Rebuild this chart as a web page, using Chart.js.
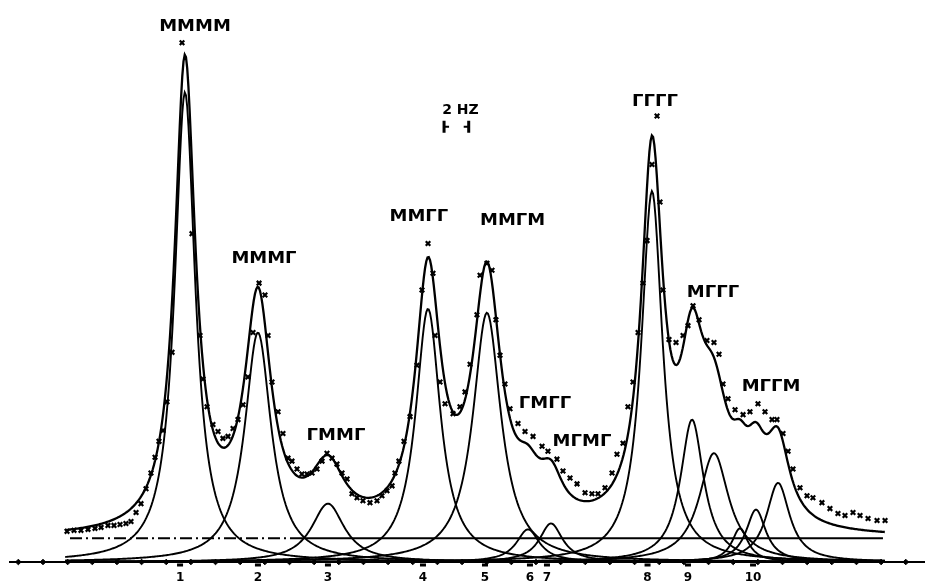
<!DOCTYPE html>
<html>
<head>
  <meta charset="UTF-8" />
  <title>Pentad fit</title>
  <script src="https://cdn.jsdelivr.net/npm/chart.js"></script>
  <style>
    html, body { margin: 0; padding: 0; background: #fff; }
    #wrap { width: 932px; height: 587px; }
  </style>
</head>
<body>
  <div id="wrap"><canvas id="spectrum"></canvas></div>

  <script>
    // fitted lines: centre (Hz), height, half width at half height (Hz)
    const peakCentre    = [11.52, 17.44, 23.12, 31.24, 36.02, 39.35, 41.22, 49.41, 52.66, 54.44, 56.55, 57.85, 59.64];
    const peakHeight    = [95.0, 46.4, 11.8, 51.2, 50.4, 6.6, 7.8, 75.0, 28.8, 22.0, 6.8, 10.6, 16.0];
    const peakHalfWidth = [1.01, 1.30, 1.62, 1.22, 1.38, 1.14, 1.14, 1.05, 1.14, 1.46, 0.81, 0.97, 1.14];
    const baselineLevel = 4.8;
    const curveFrom = 1.8, curveTo = 68.3;

    // measured points (x marks)
    const obsHz = [1.95, 2.52, 3.08, 3.65, 4.22, 4.71, 5.27, 5.76, 6.25, 6.73, 7.14, 7.55, 7.95, 8.36, 8.76, 9.09, 9.41, 9.74,
      10.06, 10.47, 11.28, 12.09, 12.74, 12.98, 13.31, 13.79, 14.20, 14.60, 15.01, 15.42, 15.82, 16.23, 16.63, 17.04, 17.53,
      18.01, 18.26, 18.58, 19.07, 19.47, 19.88, 20.20, 20.61, 21.01, 21.42, 21.83, 22.23, 22.64, 23.04, 23.45, 23.85, 24.26,
      24.67, 25.07, 25.48, 25.96, 26.53, 27.10, 27.50, 27.91, 28.32, 28.56, 28.88, 29.29, 29.78, 30.34, 30.75, 31.24, 31.64,
      31.81, 32.21, 32.62, 33.27, 33.83, 34.24, 34.65, 35.21, 35.46, 36.02, 36.43, 36.75, 37.08, 37.48, 37.89, 38.54, 39.11,
      39.76, 40.49, 40.97, 41.70, 42.19, 42.76, 43.33, 43.98, 44.54, 45.03, 45.60, 46.17, 46.57, 47.06, 47.46, 47.87, 48.28,
      48.68, 49.01, 49.41, 49.82, 50.06, 50.30, 50.79, 51.36, 51.93, 52.33, 52.74, 53.23, 53.87, 54.44, 54.85, 55.17, 55.58,
      56.15, 56.80, 57.36, 58.01, 58.58, 59.15, 59.55, 60.04, 60.45, 60.85, 61.42, 61.99, 62.47, 63.20, 63.85, 64.50, 65.07,
      65.72, 66.29, 66.94, 67.67, 68.32];
    const obsInt = [6.2, 6.4, 6.4, 6.6, 6.8, 7.0, 7.4, 7.4, 7.6, 7.8, 8.2, 10.0, 11.8, 14.8, 18.0, 21.2, 24.4, 26.6,
      32.4, 42.4, 105.0, 66.4, 45.8, 37.0, 31.4, 27.8, 26.4, 25.0, 25.4, 27.0, 28.8, 31.8, 37.4, 46.4, 56.4,
      54.0, 45.8, 36.4, 30.4, 26.0, 21.0, 20.4, 18.8, 17.8, 17.8, 18.0, 18.8, 20.4, 22.0, 21.0, 19.8, 18.0,
      16.8, 13.8, 13.0, 12.4, 12.0, 12.4, 13.4, 14.4, 15.4, 18.0, 20.4, 24.4, 29.4, 39.8, 55.0, 64.4, 58.4,
      45.8, 36.4, 32.0, 30.0, 31.4, 34.4, 40.0, 50.0, 58.0, 60.4, 59.0, 49.0, 41.8, 36.0, 31.0, 28.0, 26.4,
      25.4, 23.4, 22.4, 20.8, 18.4, 17.0, 15.8, 14.0, 13.8, 13.8, 15.0, 18.0, 21.8, 24.0, 31.4, 36.4, 46.4,
      56.4, 65.0, 80.4, 90.2, 72.8, 55.0, 45.0, 44.4, 45.8, 47.8, 51.8, 49.0, 44.8, 44.4, 42.0, 36.0, 33.0,
      30.8, 29.8, 30.4, 32.0, 30.4, 28.8, 28.8, 26.0, 22.4, 18.8, 15.0, 13.4, 13.0, 12.0, 10.8, 9.8, 9.4,
      10.0, 9.4, 8.8, 8.4, 8.4];

    // axis
    const tickHz   = [11.12, 17.44, 23.12, 30.83, 35.86, 39.51, 40.89, 49.05, 52.33, 57.61];
    const tickText = ['1', '2', '3', '4', '5', '6', '7', '8', '9', '10'];
    const axisMarkHz = [-2, 0, 2, 4, 6, 8, 10, 12, 14, 16, 18, 20, 22, 24, 26, 28, 30, 32, 34, 36,
      38, 40, 42, 44, 46, 48, 50, 52, 54, 56, 58, 60, 62, 64, 66, 68, 70];

    // pentad names
    const pentadText = ['MMMM', 'MMMΓ', 'ΓMMΓ', 'MMΓΓ', 'MMΓM', 'ΓMΓΓ', 'MΓMΓ', 'ΓΓΓΓ', 'MΓΓΓ', 'MΓΓM'];
    const pentadHz   = [12.33, 17.93, 23.77, 30.50, 38.10, 40.73, 43.73, 49.66, 54.36, 59.07];
    const pentadInt  = [108.2, 61.4, 25.6, 69.8, 69.0, 32.0, 24.4, 93.0, 54.4, 35.4];
    const scaleBarHz = [32.54, 34.54];

    function line(i, x) {
      const d = (x - peakCentre[i]) / peakHalfWidth[i];
      return peakHeight[i] / (1 + d * d);
    }

    const xs = [];
    for (let k = 0; curveFrom + k * 0.1 <= curveTo; k++) xs.push(+(curveFrom + k * 0.1).toFixed(2));

    const lineSets = peakCentre.map((c, i) => ({
      data: xs.map(x => ({ x: x, y: line(i, x) })),
      showLine: true, pointRadius: 0, borderColor: '#000', borderWidth: 1.9, fill: false
    }));

    const sumSet = {
      data: xs.map(x => ({ x: x, y: baselineLevel + peakCentre.reduce((s, c, i) => s + line(i, x), 0) })),
      showLine: true, pointRadius: 0, borderColor: '#000', borderWidth: 2.3, fill: false
    };

    const obsSet = {
      data: obsHz.map((x, i) => ({ x: x, y: obsInt[i] })),
      showLine: false, pointStyle: 'crossRot', pointRadius: 3.2, borderColor: '#000', borderWidth: 2.2
    };

    const baseDash = {
      data: [{ x: 2.19, y: baselineLevel }, { x: 20.04, y: baselineLevel }],
      showLine: true, pointRadius: 0, borderColor: '#000', borderWidth: 1.8, borderDash: [12, 4, 2, 4]
    };
    const baseSolid = {
      data: [{ x: 20.04, y: baselineLevel }, { x: 68.15, y: baselineLevel }],
      showLine: true, pointRadius: 0, borderColor: '#000', borderWidth: 1.8
    };

    const axisMarks = {
      data: axisMarkHz.map(x => ({ x: x, y: 0 })),
      showLine: false, pointStyle: 'rectRot', pointRadius: 2.8, backgroundColor: '#000', borderColor: '#000',
      borderWidth: 1, clip: false
    };

    const labelPlugin = {
      id: 'labels',
      afterDatasetsDraw(chart) {
        const ctx = chart.ctx, xS = chart.scales.x, yS = chart.scales.y;
        ctx.save();
        ctx.fillStyle = '#000';
        ctx.strokeStyle = '#000';
        ctx.textAlign = 'center';
        ctx.textBaseline = 'middle';
        ctx.font = 'bold 18px "DejaVu Sans"';
        pentadText.forEach((t, i) => {
          const px = xS.getPixelForValue(pentadHz[i]), py = yS.getPixelForValue(pentadInt[i]);
          ctx.save();
          ctx.translate(px, py);
          ctx.scale(1.0, 0.9);
          ctx.fillText(t, 0, 0);
          ctx.restore();
        });

        // 2 Hz bar
        const a = xS.getPixelForValue(scaleBarHz[0]), b = xS.getPixelForValue(scaleBarHz[1]);
        const yb = yS.getPixelForValue(88);
        ctx.font = 'bold 14px "DejaVu Sans"';
        ctx.fillText('2 HZ', (a + b) / 2 + 4, yS.getPixelForValue(91.4));
        ctx.lineWidth = 3;
        ctx.beginPath();
        ctx.moveTo(a, yb - 6); ctx.lineTo(a, yb + 6);
        ctx.moveTo(b, yb - 6); ctx.lineTo(b, yb + 6);
        ctx.stroke();
        ctx.lineWidth = 2;
        ctx.beginPath();
        ctx.moveTo(a, yb); ctx.lineTo(a + 5, yb);
        ctx.moveTo(b, yb); ctx.lineTo(b - 5, yb);
        ctx.stroke();

        // small marks under the axis at the numbered lines
        const y0 = yS.getPixelForValue(0);
        tickHz.forEach(v => {
          const px = xS.getPixelForValue(v);
          ctx.fillRect(px - 3, y0 + 1.5, 6, 3);
        });
        ctx.restore();
      }
    };

    new Chart(document.getElementById('spectrum'), {
      type: 'scatter',
      data: { datasets: [obsSet, axisMarks, sumSet, baseDash, baseSolid].concat(lineSets) },
      options: {
        responsive: true,
        maintainAspectRatio: false,
        devicePixelRatio: 1,
        animation: false,
        layout: { padding: { left: 10, right: 8, top: 0, bottom: 0 } },
        plugins: { legend: { display: false }, tooltip: { enabled: false } },
        scales: {
          x: {
            type: 'linear',
            min: -2.677, max: 71.48,
            grid: { display: false, drawTicks: false },
            border: { display: true, color: '#000', width: 2 },
            afterBuildTicks: (s) => { s.ticks = tickHz.map(v => ({ value: v })); },
            afterFit: (s) => { s.height = 25; },
            ticks: {
              autoSkip: false, maxRotation: 0, padding: 9, color: '#000',
              font: { family: 'DejaVu Sans', size: 12, weight: 'bold' },
              callback: (v, i) => tickText[i]
            }
          },
          y: { display: false, min: 0, max: 112.4 }
        }
      },
      plugins: [labelPlugin]
    });
  </script>
</body>
</html>
